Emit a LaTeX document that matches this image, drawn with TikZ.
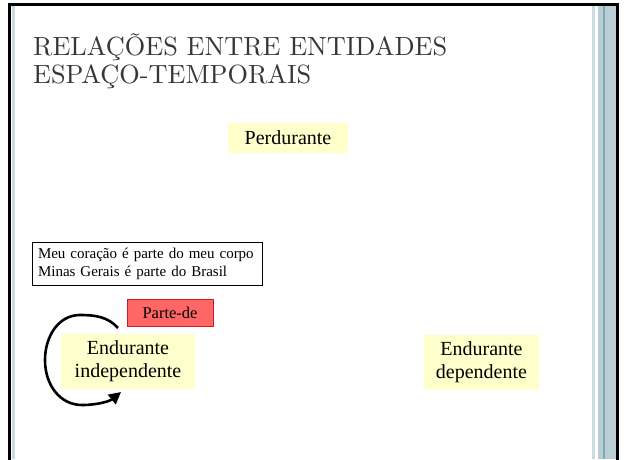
\documentclass[tikz,border=0pt]{standalone}
\usepackage{fontspec}
\newfontfamily\tnr{Liberation Serif}
\newfontfamily\titlefont{lmroman10-regular.otf}
\usetikzlibrary{arrows.meta}
\definecolor{yellowbox}{RGB}{255,255,204}
\definecolor{redbox}{RGB}{255,102,102}
\definecolor{rededge}{RGB}{200,30,30}
\definecolor{bandblue}{RGB}{186,206,213}
\definecolor{lightblue}{RGB}{200,220,226}
\definecolor{darkline}{RGB}{125,168,182}
\definecolor{titlegray}{RGB}{55,55,55}
\tikzset{
  ybox/.style={fill=yellowbox, draw=none, inner sep=0pt, align=center,
    font=\tnr\fontsize{20}{23}\selectfont},
  titletext/.style={anchor=base west, inner sep=0pt, text=titlegray,
    font=\titlefont\fontsize{26.3}{29}\selectfont},
  loopline/.style={line width=2.6pt, -{Triangle[length=12pt,width=12pt]}}
}
\begin{document}
\begin{tikzpicture}[x=1pt,y=1pt]
\useasboundingbox (0,0) rectangle (626,459);
\fill[white] (0,0) rectangle (626,459);
% frame decoration
\fill[lightblue] (12,0) rectangle (15,453);
\fill[lightblue] (592,0) rectangle (595,453);
\fill[bandblue] (598,0) rectangle (616,453);
\fill[darkline] (603.3,0) rectangle (604.6,453);
\draw[line width=3.2pt, line join=miter] (9.5,-3) -- (9.5,454.5) -- (617.5,454.5) -- (617.5,-3);
% title
\node[titletext] (t1) at (33,403) {RELAÇÕES ENTRE ENTIDADES};
\node[titletext] (t2) at (33,375) {ESPAÇO-TEMPORAIS};
% boxes
\node[ybox, minimum width=120pt, minimum height=30pt] (perd) at (288,321) {Perdurante};
\node[draw=black, line width=0.8pt, fill=white, minimum width=230pt, minimum height=43pt,
  text width=218pt, align=left, inner sep=0pt, font=\tnr\fontsize{15}{18}\selectfont]
  (ex) at (147,195.5) {Meu coração é parte do meu corpo\\Minas Gerais é parte do Brasil};
\node[fill=redbox, draw=rededge, line width=0.8pt, minimum width=86pt, minimum height=27pt,
  inner sep=0pt, font=\tnr\fontsize{16.5}{19}\selectfont] (parte) at (170,146.5) {Parte-de};
% self loop of the independent endurant
\coordinate (loopstart) at (118,131);
\coordinate (loopend) at (121,67);
\draw[loopline] (loopstart) .. controls (108,142) and (96,144) .. (80,144)
  .. controls (58,144) and (45,122) .. (45,99)
  .. controls (45,74) and (60,54) .. (82,54)
  .. controls (98,54) and (110,58) .. (loopend);
\node[ybox, minimum width=134pt, minimum height=55pt] (ind) at (128,98) {Endurante\\independente};
\node[ybox, minimum width=115pt, minimum height=55pt] (dep) at (481.5,96.5) {Endurante\\dependente};
\end{tikzpicture}
\end{document}
